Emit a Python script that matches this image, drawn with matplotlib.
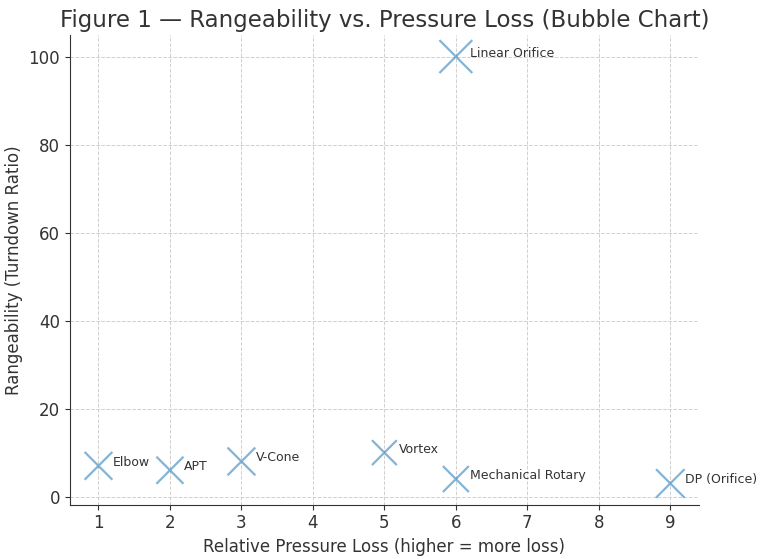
import matplotlib
matplotlib.use("Agg")
import matplotlib.pyplot as plt

# Données
meters = ["Elbow", "APT", "V-Cone", "Vortex", "Mechanical Rotary", "DP (Orifice)", "Linear Orifice"]
pressure_loss = [1, 2, 3, 5, 6, 9, 6]
rangeability = [7, 6, 8, 10, 4, 3, 100]
bubble_size = [400, 380, 400, 320, 350, 420, 560]

text_color = "#333333"

fig, ax = plt.subplots(figsize=(7.68, 5.59), dpi=100)
fig.subplots_adjust(left=0.091, right=0.910, bottom=0.097, top=0.937)

ax.scatter(pressure_loss, rangeability, s=bubble_size, marker="x", color="#1f77b4",
           alpha=0.55, linewidths=1.6, zorder=3)

for name, x, y in zip(meters, pressure_loss, rangeability):
    ax.text(x + 0.2, y, name, fontsize=9, color=text_color, zorder=4)

ax.set_title("Figure 1 \u2014 Rangeability vs. Pressure Loss (Bubble Chart)", fontsize=16.5, color=text_color)
ax.set_xlabel("Relative Pressure Loss (higher = more loss)", fontsize=12, color=text_color)
ax.set_ylabel("Rangeability (Turndown Ratio)", fontsize=12, color=text_color)
ax.set_xticks(range(1, 10))
ax.set_yticks(range(0, 101, 20))
ax.tick_params(labelsize=12, colors=text_color)
ax.grid(True, linestyle="--", color="#d0d0d0", linewidth=0.7)
ax.set_axisbelow(True)

for side in ["top", "right"]:
    ax.spines[side].set_visible(False)
for side in ["left", "bottom"]:
    ax.spines[side].set_color(text_color)

fig.savefig("out.png", dpi=100)
